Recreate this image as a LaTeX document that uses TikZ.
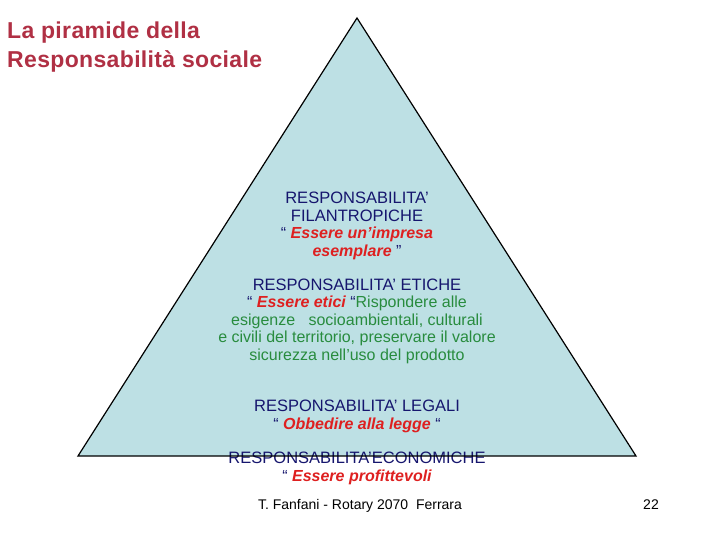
\documentclass[tikz,border=0pt]{standalone}
\usepackage{fontspec}
\setmainfont{Liberation Sans}
\definecolor{titlered}{RGB}{176,48,68}
\definecolor{navy}{RGB}{22,22,110}
\definecolor{redtxt}{RGB}{222,32,32}
\definecolor{greentxt}{RGB}{40,140,62}
\definecolor{pyrfill}{RGB}{189,224,228}
\tikzset{
  blocktxt/.style={anchor=base, align=center, inner sep=0pt, text=navy, font=\fontsize{16}{17.5}\selectfont},
  smalltxt/.style={anchor=base, inner sep=0pt, text=black, font=\fontsize{14}{16}\selectfont},
}
\newcommand{\rit}[1]{{\color{redtxt}\bfseries\itshape #1}}
\newcommand{\grn}[1]{{\color{greentxt}#1}}
\newcommand{\hd}[1]{{\fontsize{16.5}{17.5}\selectfont #1}}
\begin{document}
\begin{tikzpicture}[x=1pt,y=-1pt]
\useasboundingbox (0,0) rectangle (720,540);
\coordinate (apex) at (357,18);
\coordinate (bl) at (78,456);
\coordinate (br) at (636,456);
\fill[pyrfill] (apex) -- (bl) -- (br) -- cycle;
\node[anchor=base west, align=left, inner sep=0pt, text=titlered, font=\fontsize{23}{29}\selectfont\bfseries\addfontfeatures{LetterSpace=1.5}] (title) at (7,68) {La piramide della\\Responsabilità sociale};
\node[blocktxt] (fil) at (357,256) {\hd{RESPONSABILITA’}\\\hd{FILANTROPICHE}\\“ \rit{Essere un’impresa}\\\rit{esemplare} ”};
\node[blocktxt] (eti) at (357,360) {\hd{RESPONSABILITA’ ETICHE}\\“ \rit{Essere etici} “\grn{Rispondere alle}\\\grn{esigenze\ \ \ socioambientali, culturali}\\\grn{e civili del territorio, preservare il valore}\\\grn{sicurezza nell’uso del prodotto}};
\node[blocktxt] (leg) at (357,429) {\hd{RESPONSABILITA’ LEGALI}\\“ \rit{Obbedire alla legge} “};
\node[blocktxt] (eco) at (357,481) {\hd{RESPONSABILITA’ECONOMICHE}\\“ \rit{Essere profittevoli}};
\draw[line width=1.2pt, line join=miter] (apex) -- (bl) -- (br) -- cycle;
\node[smalltxt] (foot) at (360,509) {T. Fanfani - Rotary 2070\ \ Ferrara};
\node[smalltxt] (page) at (651,509) {22};
\end{tikzpicture}
\end{document}
